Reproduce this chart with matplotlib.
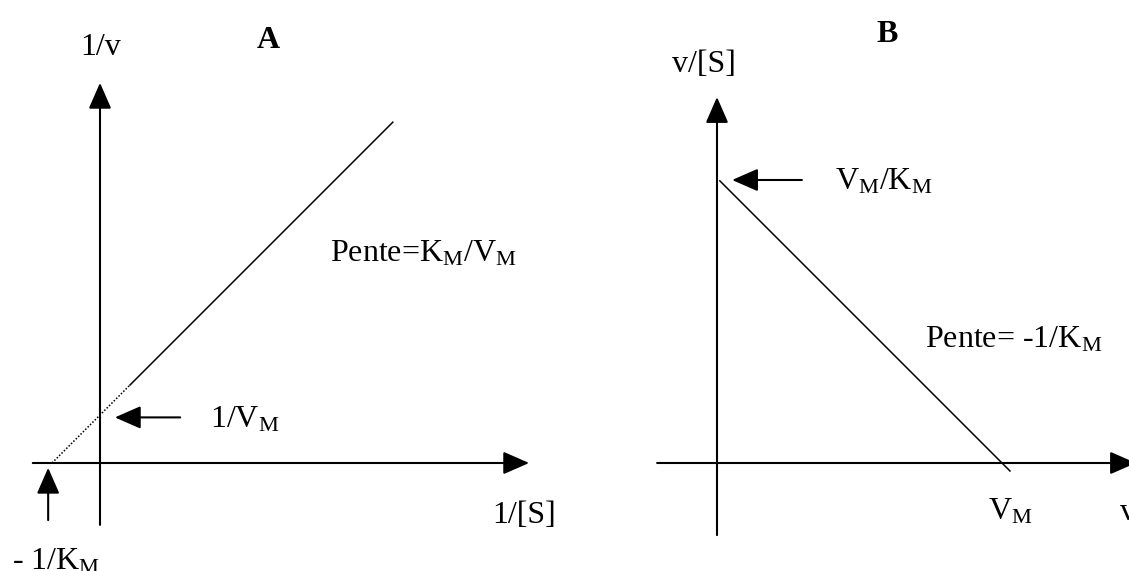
import numpy as np
import matplotlib
matplotlib.use("Agg")
import matplotlib.pyplot as plt

plt.rcParams['font.family'] = ['Liberation Serif', 'DejaVu Serif']
plt.rcParams['mathtext.fontset'] = 'custom'
plt.rcParams['mathtext.rm'] = 'Liberation Serif'
plt.rcParams['mathtext.it'] = 'Liberation Serif:italic'

# Panel A : Lineweaver-Burk, 1/v = (KM/VM) * 1/[S] + 1/VM
KM_A = 1.0
VM_A = 1.0
xs_A = [0.625, 6.1]         # drawn part of the solid line (1/[S])
# Panel B : Eadie-Hofstee, v/[S] = VM/KM - v/KM
KM_B = 1.0
VM_B = 1.0
xs_B = [0.01, 1.028]        # drawn part of the line (v)

FS = 23
LW_AX = 1.5
LW_LN = 1.1
ARROW = dict(arrowstyle='-|>,head_length=0.8,head_width=0.35', mutation_scale=20,
             lw=LW_AX, color='k', shrinkA=0, shrinkB=0)


def arrow(ax, tail, tip):
    ax.annotate("", xy=tip, xytext=tail, arrowprops=ARROW, annotation_clip=False)


fig = plt.figure(figsize=(11.29, 5.71), dpi=100)

# ---- panel A ----  (48 px per unit, origin at 100,463)
axA = fig.add_axes([0, 0, 564 / 1129, 1])
axA.set_xlim(-100 / 48, 464 / 48)
axA.set_ylim(-108 / 48, 463 / 48)
axA.axis('off')

arrow(axA, (-1.4, 0), (8.94, 0))
arrow(axA, (0, -1.29), (0, 7.92))

x1 = np.array([-KM_A, xs_A[0]])
axA.plot(x1, KM_A / VM_A * x1 + 1 / VM_A, color='k', lw=LW_LN, ls=(0, (1, 1.2)))
x2 = np.array(xs_A)
axA.plot(x2, KM_A / VM_A * x2 + 1 / VM_A, color='k', lw=LW_LN)

arrow(axA, (1.67, 1 / VM_A - 0.05), (0.31, 1 / VM_A - 0.05))
arrow(axA, (-1 / KM_A - 0.08, -1.19), (-1 / KM_A - 0.08, -0.1))

axA.text(-0.42, 8.5, "1/v", fontsize=FS, va='baseline', ha='left')
axA.text(3.27, 8.65, "A", fontsize=FS, fontweight='bold', va='baseline', ha='left')
axA.text(8.17, -1.25, "1/[S]", fontsize=FS, va='baseline', ha='left')
axA.text(4.79, 4.19, r"Pente=K$_\mathrm{M}$/V$_\mathrm{M}$", fontsize=FS, va='baseline', ha='left')
axA.text(2.29, 0.73, r"1/V$_\mathrm{M}$", fontsize=FS, va='baseline', ha='left')
axA.text(-1.83, -2.21, r"- 1/K$_\mathrm{M}$", fontsize=FS, va='baseline', ha='left')

# ---- panel B ----  (285 px per unit, origin at 717,463)
axB = fig.add_axes([565 / 1129, 0, 564 / 1129, 1])
axB.set_xlim(-152 / 285, 412 / 285)
axB.set_ylim(-108 / 285, 463 / 285)
axB.axis('off')

arrow(axB, (-0.21, 0), (1.47, 0))
arrow(axB, (0, -0.253), (0, 1.284))

xb = np.array(xs_B)
axB.plot(xb, VM_B / KM_B - xb / KM_B, color='k', lw=LW_LN)

arrow(axB, (0.298, VM_B / KM_B - 0.007), (0.053, VM_B / KM_B - 0.007))

axB.text(-0.158, 1.372, "v/[S]", fontsize=FS, va='baseline', ha='left')
axB.text(0.561, 1.477, "B", fontsize=FS, fontweight='bold', va='baseline', ha='left')
axB.text(0.414, 0.958, r"V$_\mathrm{M}$/K$_\mathrm{M}$", fontsize=FS, va='baseline', ha='left')
axB.text(0.73, 0.407, r"Pente= -1/K$_\mathrm{M}$", fontsize=FS, va='baseline', ha='left')
axB.text(0.951, -0.2, r"V$_\mathrm{M}$", fontsize=FS, va='baseline', ha='left')
axB.text(1.414, -0.2, "v", fontsize=FS, va='baseline', ha='left')

fig.savefig("out.png", dpi=100)
